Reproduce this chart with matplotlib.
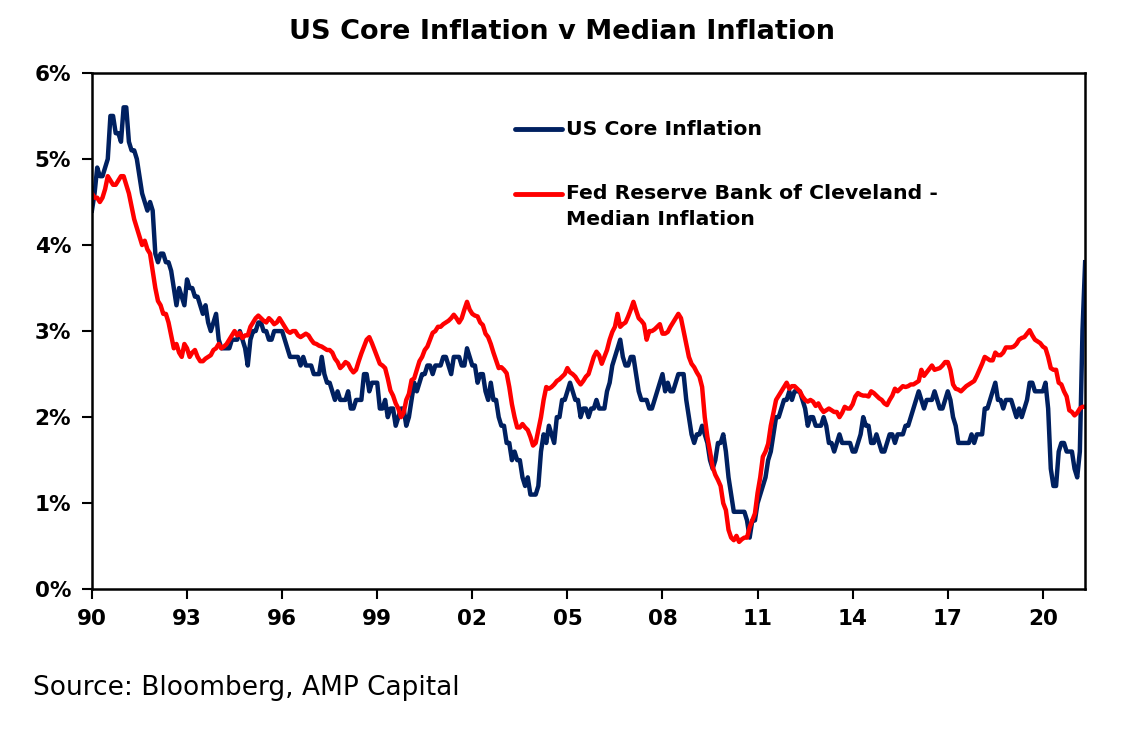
import numpy as np
import matplotlib
matplotlib.use("Agg")
import matplotlib.pyplot as plt

plt.rcParams['font.family'] = ['DejaVu Sans']

# 前年比 (%)、1990年1月から2021年5月まで月次
core_cpi = [
    4.4, 4.6, 4.9, 4.8, 4.8, 4.9, 5.0, 5.5, 5.5, 5.3, 5.3, 5.2,  # 1990
    5.6, 5.6, 5.2, 5.1, 5.1, 5.0, 4.8, 4.6, 4.5, 4.4, 4.5, 4.4,  # 1991
    3.9, 3.8, 3.9, 3.9, 3.8, 3.8, 3.7, 3.5, 3.3, 3.5, 3.4, 3.3,  # 1992
    3.6, 3.5, 3.5, 3.4, 3.4, 3.3, 3.2, 3.3, 3.1, 3.0, 3.1, 3.2,  # 1993
    2.9, 2.8, 2.8, 2.8, 2.8, 2.9, 2.9, 2.9, 3.0, 2.9, 2.8, 2.6,  # 1994
    2.9, 3.0, 3.0, 3.1, 3.1, 3.0, 3.0, 2.9, 2.9, 3.0, 3.0, 3.0,  # 1995
    3.0, 2.9, 2.8, 2.7, 2.7, 2.7, 2.7, 2.6, 2.7, 2.6, 2.6, 2.6,  # 1996
    2.5, 2.5, 2.5, 2.7, 2.5, 2.4, 2.4, 2.3, 2.2, 2.3, 2.2, 2.2,  # 1997
    2.2, 2.3, 2.1, 2.1, 2.2, 2.2, 2.2, 2.5, 2.5, 2.3, 2.4, 2.4,  # 1998
    2.4, 2.1, 2.1, 2.2, 2.0, 2.1, 2.1, 1.9, 2.0, 2.1, 2.1, 1.9,  # 1999
    2.0, 2.2, 2.4, 2.3, 2.4, 2.5, 2.5, 2.6, 2.6, 2.5, 2.6, 2.6,  # 2000
    2.6, 2.7, 2.7, 2.6, 2.5, 2.7, 2.7, 2.7, 2.6, 2.6, 2.8, 2.7,  # 2001
    2.6, 2.6, 2.4, 2.5, 2.5, 2.3, 2.2, 2.4, 2.2, 2.2, 2.0, 1.9,  # 2002
    1.9, 1.7, 1.7, 1.5, 1.6, 1.5, 1.5, 1.3, 1.2, 1.3, 1.1, 1.1,  # 2003
    1.1, 1.2, 1.6, 1.8, 1.7, 1.9, 1.8, 1.7, 2.0, 2.0, 2.2, 2.2,  # 2004
    2.3, 2.4, 2.3, 2.2, 2.2, 2.0, 2.1, 2.1, 2.0, 2.1, 2.1, 2.2,  # 2005
    2.1, 2.1, 2.1, 2.3, 2.4, 2.6, 2.7, 2.8, 2.9, 2.7, 2.6, 2.6,  # 2006
    2.7, 2.7, 2.5, 2.3, 2.2, 2.2, 2.2, 2.1, 2.1, 2.2, 2.3, 2.4,  # 2007
    2.5, 2.3, 2.4, 2.3, 2.3, 2.4, 2.5, 2.5, 2.5, 2.2, 2.0, 1.8,  # 2008
    1.7, 1.8, 1.8, 1.9, 1.8, 1.7, 1.5, 1.4, 1.5, 1.7, 1.7, 1.8,  # 2009
    1.6, 1.3, 1.1, 0.9, 0.9, 0.9, 0.9, 0.9, 0.8, 0.6, 0.8, 0.8,  # 2010
    1.0, 1.1, 1.2, 1.3, 1.5, 1.6, 1.8, 2.0, 2.0, 2.1, 2.2, 2.2,  # 2011
    2.3, 2.2, 2.3, 2.3, 2.3, 2.2, 2.1, 1.9, 2.0, 2.0, 1.9, 1.9,  # 2012
    1.9, 2.0, 1.9, 1.7, 1.7, 1.6, 1.7, 1.8, 1.7, 1.7, 1.7, 1.7,  # 2013
    1.6, 1.6, 1.7, 1.8, 2.0, 1.9, 1.9, 1.7, 1.7, 1.8, 1.7, 1.6,  # 2014
    1.6, 1.7, 1.8, 1.8, 1.7, 1.8, 1.8, 1.8, 1.9, 1.9, 2.0, 2.1,  # 2015
    2.2, 2.3, 2.2, 2.1, 2.2, 2.2, 2.2, 2.3, 2.2, 2.1, 2.1, 2.2,  # 2016
    2.3, 2.2, 2.0, 1.9, 1.7, 1.7, 1.7, 1.7, 1.7, 1.8, 1.7, 1.8,  # 2017
    1.8, 1.8, 2.1, 2.1, 2.2, 2.3, 2.4, 2.2, 2.2, 2.1, 2.2, 2.2,  # 2018
    2.2, 2.1, 2.0, 2.1, 2.0, 2.1, 2.2, 2.4, 2.4, 2.3, 2.3, 2.3,  # 2019
    2.3, 2.4, 2.1, 1.4, 1.2, 1.2, 1.6, 1.7, 1.7, 1.6, 1.6, 1.6,  # 2020
    1.4, 1.3, 1.6, 3.0, 3.8,                                     # 2021
]

median_cpi = [
    4.6, 4.55, 4.55, 4.5, 4.55, 4.65, 4.8, 4.75, 4.7, 4.7, 4.75, 4.8,  # 1990
    4.8, 4.7, 4.6, 4.45, 4.3, 4.2, 4.1, 4.0, 4.05, 3.95, 3.9, 3.7,     # 1991
    3.5, 3.35, 3.3, 3.2, 3.2, 3.1, 2.95, 2.8, 2.85, 2.75, 2.7, 2.85,   # 1992
    2.8, 2.7, 2.75, 2.78, 2.7, 2.65, 2.65, 2.68, 2.7, 2.72, 2.78, 2.8, # 1993
    2.85, 2.8, 2.82, 2.85, 2.9, 2.95, 3.0, 2.95, 2.98, 2.92, 2.95, 2.95,  # 1994
    3.05, 3.1, 3.15, 3.18, 3.15, 3.12, 3.1, 3.15, 3.12, 3.08, 3.1, 3.15,  # 1995
    3.1, 3.05, 3.0, 2.98, 3.0, 3.0, 2.95, 2.93, 2.95, 2.97, 2.95, 2.9,    # 1996
    2.86, 2.85, 2.83, 2.82, 2.8, 2.78, 2.78, 2.75, 2.68, 2.64, 2.57, 2.6, # 1997
    2.64, 2.62, 2.56, 2.52, 2.55, 2.65, 2.74, 2.82, 2.9, 2.93, 2.86, 2.78,  # 1998
    2.7, 2.62, 2.6, 2.57, 2.45, 2.31, 2.25, 2.16, 2.1, 2.0, 2.05, 2.2,    # 1999
    2.27, 2.43, 2.45, 2.55, 2.65, 2.7, 2.78, 2.82, 2.9, 2.98, 3.0, 3.05,  # 2000
    3.05, 3.08, 3.1, 3.12, 3.15, 3.19, 3.15, 3.1, 3.15, 3.25, 3.34, 3.25, # 2001
    3.2, 3.18, 3.17, 3.1, 3.07, 2.97, 2.93, 2.85, 2.75, 2.66, 2.57, 2.58, # 2002
    2.55, 2.51, 2.35, 2.15, 2.0, 1.88, 1.88, 1.92, 1.88, 1.85, 1.77, 1.67,  # 2003
    1.7, 1.85, 2.0, 2.2, 2.35, 2.33, 2.35, 2.38, 2.42, 2.44, 2.47, 2.5,   # 2004
    2.57, 2.52, 2.5, 2.47, 2.42, 2.38, 2.42, 2.47, 2.5, 2.6, 2.7, 2.76,   # 2005
    2.72, 2.62, 2.7, 2.78, 2.9, 2.99, 3.05, 3.2, 3.05, 3.08, 3.1, 3.17,   # 2006
    3.25, 3.34, 3.24, 3.15, 3.12, 3.08, 2.9, 3.0, 3.0, 3.02, 3.05, 3.08,  # 2007
    2.97, 2.97, 2.99, 3.05, 3.1, 3.15, 3.2, 3.15, 3.0, 2.85, 2.7, 2.62,   # 2008
    2.58, 2.52, 2.47, 2.35, 2.0, 1.77, 1.6, 1.42, 1.33, 1.27, 1.2, 1.0,   # 2009
    0.92, 0.69, 0.6, 0.57, 0.62, 0.55, 0.58, 0.6, 0.6, 0.72, 0.8, 0.88,   # 2010
    1.12, 1.3, 1.54, 1.6, 1.69, 1.9, 2.05, 2.2, 2.25, 2.3, 2.35, 2.4,     # 2011
    2.33, 2.36, 2.36, 2.33, 2.3, 2.24, 2.2, 2.18, 2.2, 2.18, 2.13, 2.16,  # 2012
    2.1, 2.06, 2.08, 2.1, 2.08, 2.06, 2.06, 2.0, 2.05, 2.12, 2.1, 2.1,    # 2013
    2.15, 2.24, 2.28, 2.26, 2.25, 2.25, 2.24, 2.3, 2.28, 2.25, 2.22, 2.2, # 2014
    2.16, 2.14, 2.2, 2.25, 2.33, 2.3, 2.33, 2.36, 2.35, 2.36, 2.38, 2.38, # 2015
    2.4, 2.42, 2.55, 2.48, 2.52, 2.56, 2.6, 2.55, 2.56, 2.57, 2.6, 2.64,  # 2016
    2.64, 2.55, 2.38, 2.33, 2.32, 2.3, 2.33, 2.36, 2.38, 2.4, 2.42, 2.48, # 2017
    2.55, 2.62, 2.7, 2.68, 2.66, 2.66, 2.75, 2.72, 2.72, 2.75, 2.81, 2.81,  # 2018
    2.81, 2.82, 2.85, 2.9, 2.92, 2.93, 2.97, 3.01, 2.95, 2.9, 2.88, 2.86, # 2019
    2.82, 2.8, 2.7, 2.57, 2.55, 2.55, 2.4, 2.38, 2.3, 2.24, 2.08, 2.06,   # 2020
    2.02, 2.05, 2.1, 2.12, 2.12,                                          # 2021
]

tick_years = [1990, 1993, 1996, 1999, 2002, 2005, 2008, 2011, 2014, 2017, 2020]
tick_labels = ['90', '93', '96', '99', '02', '05', '08', '11', '14', '17', '20']
y_ticks = [0, 1, 2, 3, 4, 5, 6]

t = 1990 + np.arange(len(core_cpi)) / 12

fig = plt.figure(figsize=(11.21, 7.44), dpi=100)
ax = fig.add_axes([0.082, 0.208, 0.886, 0.694])

ax.plot(t, core_cpi, color='#002060', lw=3.2)
ax.plot(t, median_cpi, color='#ff0000', lw=3.2)

ax.set_xlim(1990, t[-1])
ax.set_ylim(0, 6)
ax.set_xticks(tick_years)
ax.set_xticklabels(tick_labels)
ax.set_yticks(y_ticks)
ax.set_yticklabels([f'{v}%' for v in y_ticks])
ax.tick_params(axis='both', direction='out', length=7, width=1.5, labelsize=15.5, pad=8)
ax.tick_params(axis='x', pad=7)
for lab in ax.get_xticklabels() + ax.get_yticklabels():
    lab.set_fontweight('bold')
for sp in ax.spines.values():
    sp.set_linewidth(1.8)
    sp.set_color('black')

# 凡例（手書き）
ax.plot([0.426, 0.473], [0.891, 0.891], transform=ax.transAxes, color='#002060', lw=3.5,
        solid_capstyle='round')
ax.text(0.477, 0.891, 'US Core Inflation', transform=ax.transAxes, fontsize=14.7,
        fontweight='bold', va='center', ha='left')
ax.plot([0.426, 0.473], [0.766, 0.766], transform=ax.transAxes, color='#ff0000', lw=3.5,
        solid_capstyle='round')
ax.text(0.477, 0.766, 'Fed Reserve Bank of Cleveland -', transform=ax.transAxes, fontsize=14.7,
        fontweight='bold', va='center', ha='left')
ax.text(0.477, 0.717, 'Median Inflation', transform=ax.transAxes, fontsize=14.7,
        fontweight='bold', va='center', ha='left')

fig.text(0.501, 0.957, 'US Core Inflation v Median Inflation', ha='center', va='center',
         fontsize=19.5, fontweight='bold')
fig.text(0.029, 0.075, 'Source: Bloomberg, AMP Capital', ha='left', va='center', fontsize=19)

fig.savefig('out.png', dpi=100)
